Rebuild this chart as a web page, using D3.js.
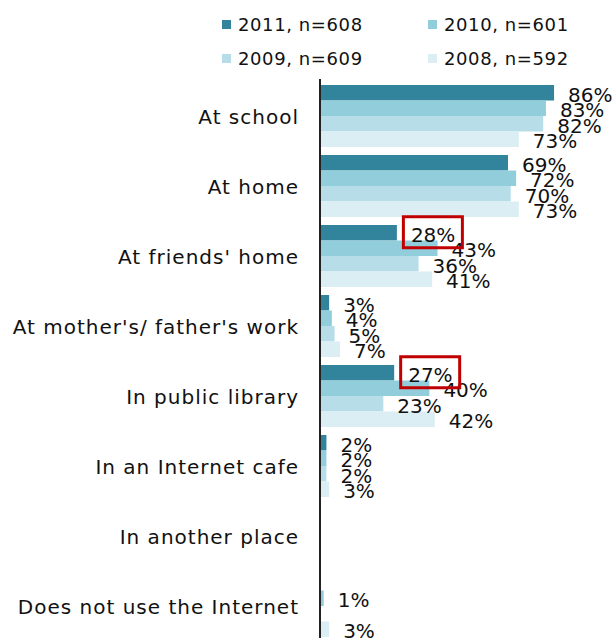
<!DOCTYPE html>
<html>
<head>
<meta charset="utf-8">
<script src="https://cdn.jsdelivr.net/npm/d3@7"></script>
<style>
body { margin: 0; background: #fff; }
text { font-family: "DejaVu Sans", Verdana, sans-serif; fill: #111; }
</style>
</head>
<body>
<script>
var categories = ["At school", "At home", "At friends' home", "At mother's/ father's work",
                  "In public library", "In an Internet cafe", "In another place", "Does not use the Internet"];
var series = ["2011, n=608", "2010, n=601", "2009, n=609", "2008, n=592"];
var colors = ["#31849b", "#92cddc", "#b7dde8", "#daeef3"];

var v2011 = [86, 69, 28, 3, 27, 2, null, null];
var v2010 = [83, 72, 43, 4, 40, 2, null, 1];
var v2009 = [82, 70, 36, 5, 23, 2, null, null];
var v2008 = [73, 73, 41, 7, 42, 3, null, 3];

// labels that got a red box in the original
var highlighted = ["At friends' home", "In public library"];

var width = 613, height = 638;

var svg = d3.select("body").append("svg")
            .attr("width", width)
            .attr("height", height);

var y0 = d3.scaleBand()
           .domain(categories)
           .range([81, 641])
           .paddingInner(8 / 70)
           .paddingOuter(4 / 70);

var y1 = d3.scaleBand()
           .domain(series)
           .range([0, y0.bandwidth()]);

var x = d3.scaleLinear()
          .domain([0, 100])
          .range([321, 592]);

var values = [v2011, v2010, v2009, v2008];
var rows = [];
categories.forEach(function(c, i) {
    series.forEach(function(s, j) {
        rows.push({cat: c, ser: s, idx: j, v: values[j][i]});
    });
});
var present = rows.filter(function(d) { return d.v !== null; });

svg.append("g").selectAll("rect")
   .data(present)
   .enter().append("rect")
   .attr("x", x(0))
   .attr("y", function(d) { return y0(d.cat) + y1(d.ser); })
   .attr("width", function(d) { return x(d.v) - x(0); })
   .attr("height", y1.bandwidth())
   .attr("fill", function(d) { return colors[d.idx]; });

// category labels
svg.append("g").selectAll("text")
   .data(categories)
   .enter().append("text")
   .attr("x", 299)
   .attr("y", function(d) { return y0(d) + y0.bandwidth() / 2 + 8; })
   .attr("text-anchor", "end")
   .style("font-size", "20px")
   .style("letter-spacing", "1px")
   .text(function(d) { return d; });

// axis line
svg.append("line")
   .attr("x1", 320).attr("x2", 320)
   .attr("y1", 79).attr("y2", height)
   .attr("stroke", "#222")
   .attr("stroke-width", 2);

// value labels
svg.append("g").selectAll("text")
   .data(present)
   .enter().append("text")
   .attr("x", function(d) { return x(d.v) + 14; })
   .attr("y", function(d) { return y0(d.cat) + y1(d.ser) + y1.bandwidth() / 2 + 9; })
   .style("font-size", "20px")
   .text(function(d) { return d.v + "%"; });

// red boxes
svg.append("g").selectAll("rect")
   .data(present.filter(function(d) { return d.idx === 0 && highlighted.indexOf(d.cat) >= 0; }))
   .enter().append("rect")
   .attr("x", function(d) { return x(d.v) + 6.5; })
   .attr("y", function(d) { return y0(d.cat) + y1(d.ser) + y1.bandwidth() / 2 - 16; })
   .attr("width", 59)
   .attr("height", 31)
   .attr("fill", "none")
   .attr("stroke", "#c00000")
   .attr("stroke-width", 3);

// legend
var legend = svg.append("g").selectAll("g")
   .data(series)
   .enter().append("g")
   .attr("transform", function(d, i) {
       return "translate(" + (i % 2 === 0 ? 222 : 428) + "," + (i < 2 ? 20 : 54) + ")";
   });

legend.append("rect")
   .attr("width", 9).attr("height", 9)
   .attr("fill", function(d, i) { return colors[i]; });

legend.append("text")
   .attr("x", 16)
   .attr("y", 11)
   .style("font-size", "18px")
   .style("letter-spacing", "0.6px")
   .text(function(d) { return d; });
</script>
</body>
</html>
